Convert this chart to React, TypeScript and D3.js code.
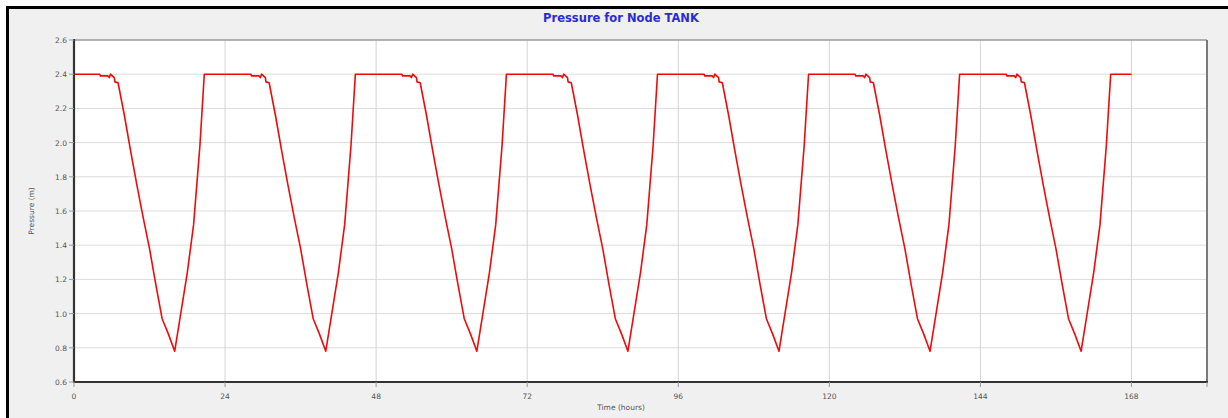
import React from "react";
import * as d3 from "d3";

const title = "Pressure for Node TANK";
const xLabel = "Time (hours)";
const yLabel = "Pressure (m)";
const xTicks = [0, 24, 48, 72, 96, 120, 144, 168];
const yTicks = [0.6, 0.8, 1.0, 1.2, 1.4, 1.6, 1.8, 2.0, 2.2, 2.4, 2.6];

// time (hours) of each reported value
const hours = [
  0, 4.1, 4.2, 5.4, 5.6, 5.8, 6.1, 6.4, 6.5, 7, 8, 9, 10, 11, 12, 13, 14, 15, 16, 17, 18, 19, 20, 20.7,
  24, 28.1, 28.2, 29.4, 29.6, 29.8, 30.1, 30.4, 30.5, 31, 32, 33, 34, 35, 36, 37, 38, 39, 40, 41, 42, 43, 44, 44.7,
  48, 52.1, 52.2, 53.4, 53.6, 53.8, 54.1, 54.4, 54.5, 55, 56, 57, 58, 59, 60, 61, 62, 63, 64, 65, 66, 67, 68, 68.7,
  72, 76.1, 76.2, 77.4, 77.6, 77.8, 78.1, 78.4, 78.5, 79, 80, 81, 82, 83, 84, 85, 86, 87, 88, 89, 90, 91, 92, 92.7,
  96, 100.1, 100.2, 101.4, 101.6, 101.8, 102.1, 102.4, 102.5, 103, 104, 105, 106, 107, 108, 109, 110, 111, 112, 113, 114, 115, 116, 116.7,
  120, 124.1, 124.2, 125.4, 125.6, 125.8, 126.1, 126.4, 126.5, 127, 128, 129, 130, 131, 132, 133, 134, 135, 136, 137, 138, 139, 140, 140.7,
  144, 148.1, 148.2, 149.4, 149.6, 149.8, 150.1, 150.4, 150.5, 151, 152, 153, 154, 155, 156, 157, 158, 159, 160, 161, 162, 163, 164, 164.7,
  168,
];

// tank pressure (m)
const pressure = [
  2.4, 2.4, 2.39, 2.39, 2.38, 2.4, 2.39, 2.38, 2.355, 2.35, 2.16, 1.95, 1.75, 1.56, 1.38, 1.17, 0.97, 0.88, 0.78, 1.01, 1.24, 1.52, 1.98, 2.4,
  2.4, 2.4, 2.39, 2.39, 2.38, 2.4, 2.39, 2.38, 2.355, 2.35, 2.16, 1.95, 1.75, 1.56, 1.38, 1.17, 0.97, 0.88, 0.78, 1.01, 1.24, 1.52, 1.98, 2.4,
  2.4, 2.4, 2.39, 2.39, 2.38, 2.4, 2.39, 2.38, 2.355, 2.35, 2.16, 1.95, 1.75, 1.56, 1.38, 1.17, 0.97, 0.88, 0.78, 1.01, 1.24, 1.52, 1.98, 2.4,
  2.4, 2.4, 2.39, 2.39, 2.38, 2.4, 2.39, 2.38, 2.355, 2.35, 2.16, 1.95, 1.75, 1.56, 1.38, 1.17, 0.97, 0.88, 0.78, 1.01, 1.24, 1.52, 1.98, 2.4,
  2.4, 2.4, 2.39, 2.39, 2.38, 2.4, 2.39, 2.38, 2.355, 2.35, 2.16, 1.95, 1.75, 1.56, 1.38, 1.17, 0.97, 0.88, 0.78, 1.01, 1.24, 1.52, 1.98, 2.4,
  2.4, 2.4, 2.39, 2.39, 2.38, 2.4, 2.39, 2.38, 2.355, 2.35, 2.16, 1.95, 1.75, 1.56, 1.38, 1.17, 0.97, 0.88, 0.78, 1.01, 1.24, 1.52, 1.98, 2.4,
  2.4, 2.4, 2.39, 2.39, 2.38, 2.4, 2.39, 2.38, 2.355, 2.35, 2.16, 1.95, 1.75, 1.56, 1.38, 1.17, 0.97, 0.88, 0.78, 1.01, 1.24, 1.52, 1.98, 2.4,
  2.4,
];

const W = 1228;
const H = 418;
const plot = { left: 74, right: 1207, top: 40, bottom: 382 };
const font = "DejaVu Sans, Verdana, sans-serif";

export default function App() {
  const x = d3.scaleLinear().domain([0, 180]).range([plot.left, plot.right]);
  const y = d3.scaleLinear().domain([0.6, 2.6]).range([plot.bottom, plot.top]);
  const pts = hours.map((h, i) => [h, pressure[i]] as [number, number]);
  const line = d3
    .line<[number, number]>()
    .x((d) => x(d[0]))
    .y((d) => y(d[1]));

  return (
    <svg
      width={W}
      height={H}
      style={{ position: "fixed", left: 0, top: 0, background: "#fff" }}
      fontFamily={font}
    >
      <rect x={7.5} y={7.5} width={W + 10} height={H + 10} fill="#f0f0f0" stroke="#000" strokeWidth={3} />
      <text x={621} y={22} textAnchor="middle" fontSize={11.5} fontWeight="bold" fill="#2b2bd6">
        {title}
      </text>
      <rect x={plot.left} y={plot.top} width={plot.right - plot.left} height={plot.bottom - plot.top} fill="#fff" />
      {yTicks.slice(1, -1).map((t) => (
        <line key={"gy" + t} x1={plot.left} x2={plot.right} y1={y(t)} y2={y(t)} stroke="#dcdcdc" strokeWidth={1} />
      ))}
      {xTicks.slice(1).map((t) => (
        <line key={"gx" + t} x1={x(t)} x2={x(t)} y1={plot.top} y2={plot.bottom} stroke="#d4d4d4" strokeWidth={1} />
      ))}
      <line x1={plot.left} x2={plot.right} y1={plot.top} y2={plot.top} stroke="#9a9a9a" strokeWidth={1.5} />
      <line x1={plot.right} x2={plot.right} y1={plot.top} y2={plot.bottom} stroke="#7a7a7a" strokeWidth={2} />
      <path d={line(pts) || ""} fill="none" stroke="#f00a0a" strokeWidth={1.6} strokeLinejoin="round" />
      <line x1={plot.left} x2={plot.left} y1={plot.top - 1} y2={plot.bottom + 1} stroke="#333" strokeWidth={2.2} />
      <line x1={plot.left - 1} x2={plot.right + 1} y1={plot.bottom} y2={plot.bottom} stroke="#333" strokeWidth={2.2} />
      {yTicks.map((t) => (
        <g key={"yt" + t}>
          <line x1={plot.left - 5} x2={plot.left} y1={y(t)} y2={y(t)} stroke="#999" strokeWidth={1} />
          <text x={plot.left - 7} y={y(t) + 3} textAnchor="end" fontSize={7.5} fill="#555">
            {t.toFixed(1)}
          </text>
        </g>
      ))}
      {xTicks.map((t) => (
        <g key={"xt" + t}>
          <line x1={x(t)} x2={x(t)} y1={plot.bottom} y2={plot.bottom + 5} stroke="#999" strokeWidth={1} />
          <text x={x(t)} y={plot.bottom + 17} textAnchor="middle" fontSize={7.5} fill="#555">
            {t}
          </text>
        </g>
      ))}
      <line x1={x(180)} x2={x(180)} y1={plot.bottom} y2={plot.bottom + 5} stroke="#999" strokeWidth={1} />
      <text x={621} y={410} textAnchor="middle" fontSize={7.5} fill="#555">
        {xLabel}
      </text>
      <text
        transform={`translate(34,${(plot.top + plot.bottom) / 2}) rotate(-90)`}
        textAnchor="middle"
        fontSize={7.5}
        fill="#555"
      >
        {yLabel}
      </text>
    </svg>
  );
}
